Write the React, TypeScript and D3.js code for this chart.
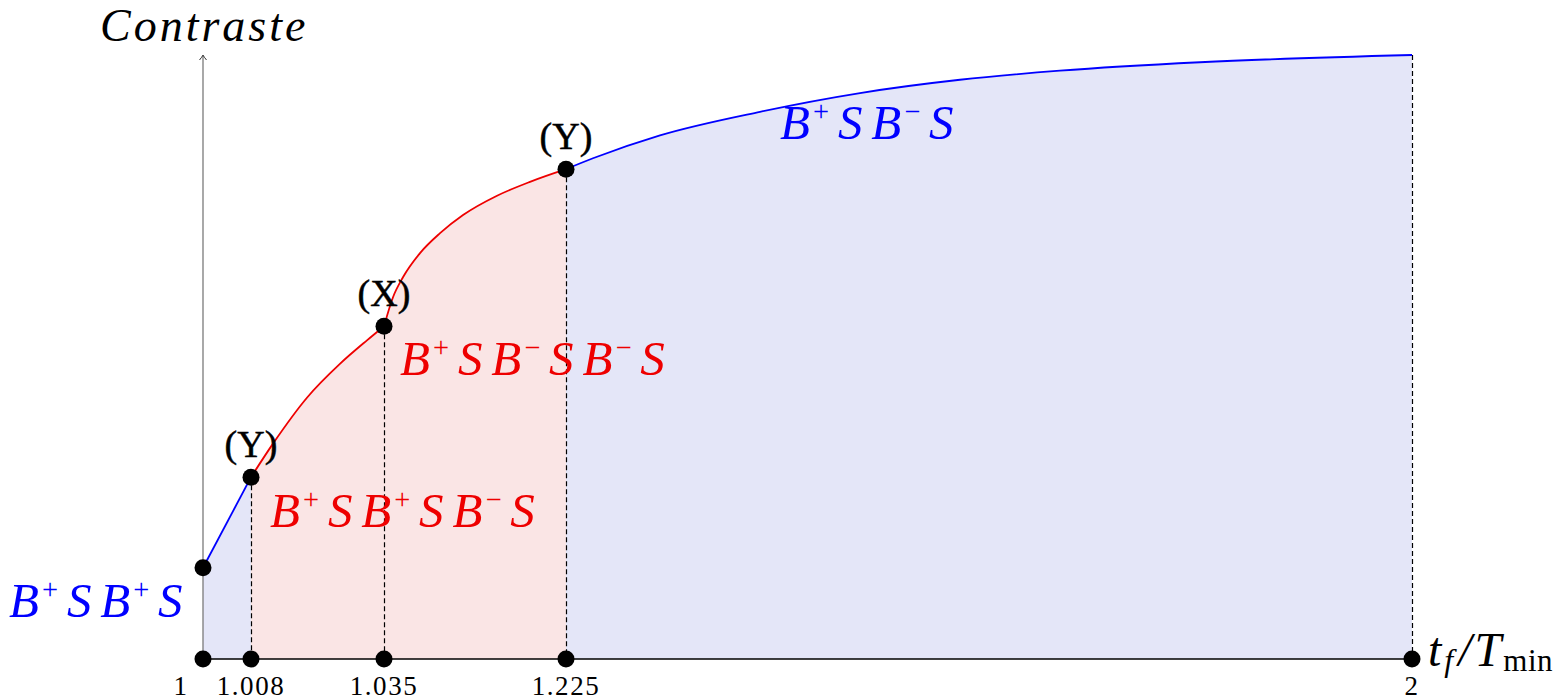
import React from "react";
import * as d3 from "d3";

// Switching times on the t_f / T_min axis and their labels
const tickValues = [1, 1.008, 1.035, 1.225, 2];
const tickLabels = ["1", "1.008", "1.035", "1.225", "2"];

// Optimal contrast (normalised) along each structure branch: [t_f/T_min, contrast]
const branchBpBp: [number, number][] = [
  [1, 0.151],
  [1.008, 0.301],
];
const branchBpBpBm: [number, number][] = [
  [1.008, 0.301],
  [1.0125, 0.357],
  [1.0194, 0.433],
  [1.0261, 0.489],
  [1.0316, 0.528],
  [1.035, 0.551],
];
const branchBpBmBm: [number, number][] = [
  [1.035, 0.551],
  [1.0444, 0.599],
  [1.0548, 0.632],
  [1.0726, 0.672],
  [1.0935, 0.705],
  [1.1175, 0.735],
  [1.153, 0.767],
  [1.1874, 0.790],
  [1.225, 0.811],
];
const branchBpBm: [number, number][] = [
  [1.225, 0.811],
  [1.2497, 0.829],
  [1.3111, 0.867],
  [1.4027, 0.906],
  [1.4943, 0.937],
  [1.5859, 0.959],
  [1.6775, 0.974],
  [1.8058, 0.988],
  [2, 1.0],
];

// Marked points on the curve and their singular-arc labels
const curvePoints: [number, number][] = [
  [1, 0.151],
  [1.008, 0.301],
  [1.035, 0.551],
  [1.225, 0.811],
];
const pointTags = [
  { t: 1.008, c: 0.301, label: "(Y)" },
  { t: 1.035, c: 0.551, label: "(X)" },
  { t: 1.225, c: 0.811, label: "(Y)" },
];

const BLUE = "#0000ff";
const RED = "#ee0000";
const BLUE_FILL = "#e4e6f8";
const RED_FILL = "#fae5e5";
const SERIF = "'Liberation Serif', 'Times New Roman', serif";

type Tok = { b: string; sup?: string };
const PLUS = "+";
const MINUS = "\u2212";
const seqBpBp: Tok[] = [{ b: "B", sup: PLUS }, { b: "S" }, { b: "B", sup: PLUS }, { b: "S" }];
const seqBpBpBm: Tok[] = [
  { b: "B", sup: PLUS }, { b: "S" }, { b: "B", sup: PLUS }, { b: "S" }, { b: "B", sup: MINUS }, { b: "S" },
];
const seqBpBmBm: Tok[] = [
  { b: "B", sup: PLUS }, { b: "S" }, { b: "B", sup: MINUS }, { b: "S" }, { b: "B", sup: MINUS }, { b: "S" },
];
const seqBpBm: Tok[] = [{ b: "B", sup: PLUS }, { b: "S" }, { b: "B", sup: MINUS }, { b: "S" }];

// Switching sequence written like a TeX math expression: B^+ S B^- S ...
function MathSeq({ x, y, toks, color, size }: { x: number; y: number; toks: Tok[]; color: string; size: number }) {
  const gap = size * 0.18;
  const rise = size * 0.36;
  const parts: React.ReactNode[] = [];
  toks.forEach((tk, i) => {
    parts.push(
      <tspan
        key={`b${i}`}
        fontStyle="italic"
        dy={i > 0 && toks[i - 1].sup ? rise : 0}
        dx={i === 0 ? 0 : gap}
      >
        {tk.b}
      </tspan>
    );
    if (tk.sup) {
      parts.push(
        <tspan key={`s${i}`} fontSize={size * 0.58} dy={-rise} dx={gap * 0.35}>
          {tk.sup}
        </tspan>
      );
    }
  });
  return (
    <text x={x} y={y} fill={color} fontSize={size} fontFamily={SERIF}>
      {parts}
    </text>
  );
}

export default function App() {
  const W = 1564;
  const H = 700;

  // Piecewise axis: the short early intervals are stretched for readability
  const x = d3.scaleLinear().domain(tickValues).range([203, 251, 384, 566, 1412]);
  const y = d3.scaleLinear().domain([0, 1]).range([659, 55]);

  const line = d3
    .line<[number, number]>()
    .x((d) => x(d[0]))
    .y((d) => y(d[1]))
    .curve(d3.curveMonotoneX);
  const area = d3
    .area<[number, number]>()
    .x((d) => x(d[0]))
    .y0(y(0))
    .y1((d) => y(d[1]))
    .curve(d3.curveMonotoneX);

  const dashed = [...curvePoints.slice(1), branchBpBm[branchBpBm.length - 1]];

  return (
    <svg
      width={W}
      height={H}
      viewBox={`0 0 ${W} ${H}`}
      style={{ position: "absolute", left: 0, top: 0, background: "#fff" }}
    >
      {/* shaded regions under each branch */}
      <path d={area(branchBpBp) ?? ""} fill={BLUE_FILL} />
      <path d={area(branchBpBpBm) ?? ""} fill={RED_FILL} />
      <path d={area(branchBpBmBm) ?? ""} fill={RED_FILL} />
      <path d={area(branchBpBm) ?? ""} fill={BLUE_FILL} />

      {/* dashed drop lines */}
      {dashed.map(([t, c], i) => (
        <line
          key={i}
          x1={x(t) + 0.5}
          x2={x(t) + 0.5}
          y1={y(c)}
          y2={y(0)}
          stroke="#000"
          strokeWidth={1.2}
          strokeDasharray="5,3"
        />
      ))}

      {/* axes */}
      <line x1={x(1)} x2={x(2)} y1={y(0)} y2={y(0)} stroke="#000" strokeWidth={1.3} />
      <line x1={x(1)} x2={x(1)} y1={y(0)} y2={y(1) + 1} stroke="#7a7a7a" strokeWidth={1.3} />
      <path
        d={`M${x(1) - 3.5},${y(1) + 5} Q${x(1) - 1},${y(1) + 2} ${x(1)},${y(1)} Q${x(1) + 1},${y(1) + 2} ${x(1) + 3.5},${y(1) + 5}`}
        fill="none"
        stroke="#333"
        strokeWidth={1}
      />

      {/* contrast curve */}
      <path d={line(branchBpBp) ?? ""} fill="none" stroke={BLUE} strokeWidth={1.8} />
      <path d={line(branchBpBpBm) ?? ""} fill="none" stroke={RED} strokeWidth={1.8} />
      <path d={line(branchBpBmBm) ?? ""} fill="none" stroke={RED} strokeWidth={1.8} />
      <path d={line(branchBpBm) ?? ""} fill="none" stroke={BLUE} strokeWidth={1.8} />

      {/* dots on curve and axis */}
      {curvePoints.map(([t, c], i) => (
        <circle key={`c${i}`} cx={x(t)} cy={y(c)} r={8.5} fill="#000" />
      ))}
      {tickValues.map((t, i) => (
        <circle key={`a${i}`} cx={x(t)} cy={y(0)} r={8.5} fill="#000" />
      ))}

      {/* tick labels */}
      {tickValues.map((t, i) => (
        <text
          key={`t${i}`}
          x={i === 0 ? x(t) - 22 : x(t)}
          y={695}
          textAnchor="middle"
          fontFamily={SERIF}
          fontSize={27}
          letterSpacing={1.6}
          fill="#000"
        >
          {tickLabels[i]}
        </text>
      ))}

      {/* point tags */}
      {pointTags.map((p, i) => (
        <text
          key={`p${i}`}
          x={x(p.t)}
          y={y(p.c) - 20}
          textAnchor="middle"
          fontFamily={SERIF}
          fontSize={38}
          stroke="#000"
          strokeWidth={0.5}
          fill="#000"
        >
          {p.label}
        </text>
      ))}

      {/* structure labels */}
      <MathSeq x={9} y={617} toks={seqBpBp} color={BLUE} size={49} />
      <MathSeq x={270} y={527} toks={seqBpBpBm} color={RED} size={49} />
      <MathSeq x={400} y={375} toks={seqBpBmBm} color={RED} size={49} />
      <MathSeq x={780} y={139} toks={seqBpBm} color={BLUE} size={49} />

      {/* axis titles */}
      <text x={100} y={41} fontFamily={SERIF} fontStyle="italic" fontSize={46} letterSpacing={3} fill="#000">
        Contraste
      </text>
      <text x={1428} y={666} fontFamily={SERIF} fontSize={48} fill="#000">
        <tspan fontStyle="italic">t</tspan>
        <tspan fontStyle="italic" fontSize={32} dy={5} dx={3}>f</tspan>
        <tspan fontStyle="italic" dy={-5} dx={5}>/</tspan>
        <tspan fontStyle="italic" dx={3}>T</tspan>
        <tspan fontSize={31} dy={5} dx={2} letterSpacing={0.5}>min</tspan>
      </text>
    </svg>
  );
}
